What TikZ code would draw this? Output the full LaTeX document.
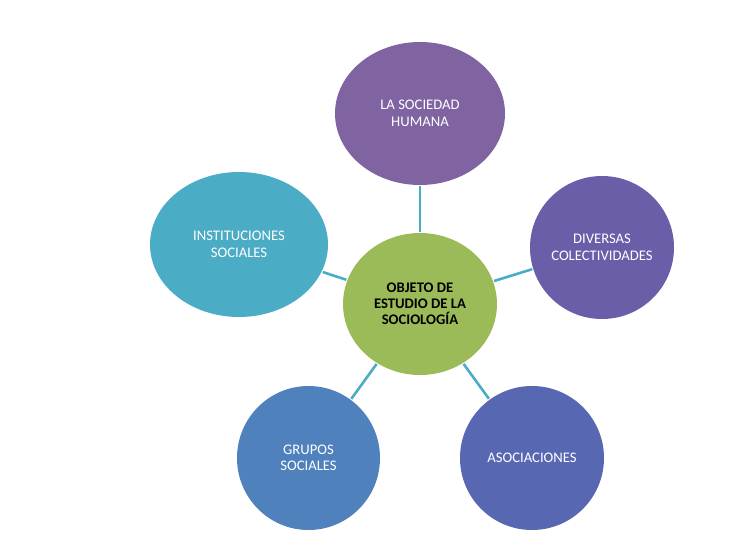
\documentclass[tikz,border=0pt]{standalone}
\usepackage{fontspec}
\setmainfont{Carlito}
\usetikzlibrary{shapes.geometric}
\definecolor{cTop}{HTML}{8064A2}
\definecolor{cRight}{HTML}{6A5EA8}
\definecolor{cBR}{HTML}{5767B2}
\definecolor{cBL}{HTML}{4F81BD}
\definecolor{cLeft}{HTML}{4BACC6}
\definecolor{cCenter}{HTML}{9BBB59}
\definecolor{cLine}{HTML}{4BACC6}
\begin{document}
\begin{tikzpicture}[x=1pt,y=-1pt,
  bubble/.style={ellipse, inner sep=0pt, align=center, text=white,
    font=\fontsize{14.67}{16.5}\selectfont},
  hub/.style={ellipse, inner sep=0pt, align=center, text=black, fill=cCenter,
    font=\fontsize{14.67}{16}\selectfont\bfseries},
  conn/.style={draw=cLine, line width=2.6pt, shorten <=1pt, shorten >=1pt}]
\useasboundingbox (0,0) rectangle (732,544);
\node[hub, minimum width=154pt, minimum height=142pt] (c) at (420,304) {OBJETO DE\\ESTUDIO DE LA\\SOCIOLOGÍA};
\node[bubble, fill=cTop, minimum width=170pt, minimum height=143pt] (t) at (420,113.5) {LA SOCIEDAD\\HUMANA};
\node[bubble, fill=cRight, minimum width=144pt, minimum height=143pt] (r) at (602,247.5) {DIVERSAS\\COLECTIVIDADES};
\node[bubble, fill=cLeft, minimum width=178pt, minimum height=145pt] (l) at (239,244.5) {INSTITUCIONES\\SOCIALES};
\node[bubble, fill=cBL, minimum width=143pt, minimum height=144pt] (bl) at (308.5,458) {GRUPOS\\SOCIALES};
\node[bubble, fill=cBR, minimum width=144pt, minimum height=144pt] (br) at (532,458) {ASOCIACIONES};
\draw[conn] (t) -- (c);
\draw[conn] (r) -- (c);
\draw[conn] (l) -- (c);
\draw[conn] (bl) -- (c);
\draw[conn] (br) -- (c);
\end{tikzpicture}
\end{document}
